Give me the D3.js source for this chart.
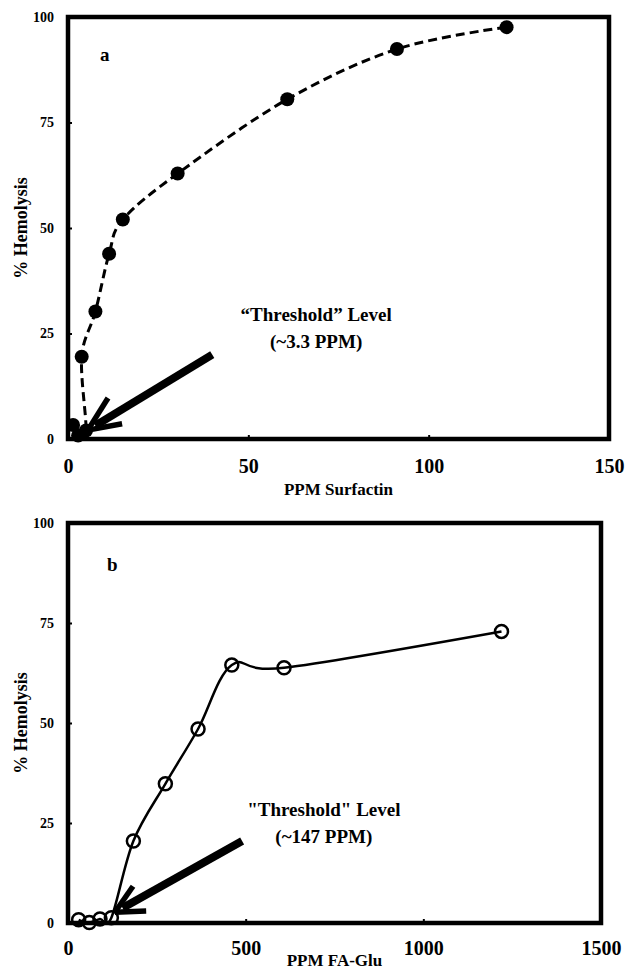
<!DOCTYPE html>
<html><head><meta charset="utf-8">
<script src="https://cdn.jsdelivr.net/npm/d3@7"></script>
<style>body{margin:0;background:#fff}svg{display:block}text{font-family:"Liberation Serif","Times New Roman",serif;font-weight:bold;fill:#000}</style>
</head><body>
<svg id="c" width="626" height="973"></svg>
<script>
// ---- Panel a: Surfactin ----
const surfPPM = [1.4, 2.8, 5.0, 3.8, 7.6, 11.4, 15.2, 30.4, 60.8, 91.2, 121.6];
const surfHemo = [3.3, 0.8, 2.0, 19.5, 30.2, 43.9, 52.0, 62.9, 80.5, 92.4, 97.6];
const surfXTicks = [0, 50, 100, 150];
// ---- Panel b: FA-Glu ----
const faPPM = [30, 60, 90, 122, 184, 274, 366, 461, 608, 1220];
const faHemo = [0.8, 0.1, 1.0, 1.3, 20.5, 34.8, 48.5, 64.5, 63.8, 72.9];
const faXTicks = [0, 500, 1000, 1500];
const yTicks = [0, 25, 50, 75, 100];
// annotations (data units): arrow tip, shaft end, arm ends
const arrowA = {tip:[5.5,2.1], tail:[40,20], arm1:[11.1,9.7], arm2:[15,3.6]};
const arrowB = {tip:[132,2.7], tail:[490,20.5], arm1:[183,9.2], arm2:[220,3.0]};
const textA = ["\u201CThreshold\u201D Level", "(~3.3 PPM)"];
const textB = ["\"Threshold\" Level", "(~147 PPM)"];

const svg = d3.select("#c");

function panel(o){
  const x = d3.scaleLinear().domain([0, o.xmax]).range([o.left, o.right]);
  const y = d3.scaleLinear().domain([0, 100]).range([o.bottom, o.top]);
  const g = svg.append("g");
  // axes
  const ax = g.append("g").attr("transform",`translate(0,${o.bottom})`)
    .call(d3.axisBottom(x).tickValues(o.xticks).tickSizeInner(-4).tickSizeOuter(0).tickPadding(o.xpad).tickFormat(d3.format("d")));
  ax.select(".domain").remove();
  ax.selectAll("line").attr("stroke","#000").attr("stroke-width",2);
  ax.selectAll("text").attr("font-size",20).attr("fill","#000");
  const ay = g.append("g").attr("transform",`translate(${o.left},0)`)
    .call(d3.axisLeft(y).tickValues(yTicks).tickSizeInner(-4).tickSizeOuter(0).tickPadding(14));
  ay.select(".domain").remove();
  ay.selectAll("line").attr("stroke","#000").attr("stroke-width",2);
  ay.selectAll("text").attr("font-size",14).attr("fill","#000");
  // frame
  g.append("rect").attr("x",o.left).attr("y",o.top).attr("width",o.right-o.left).attr("height",o.bottom-o.top)
    .attr("fill","none").attr("stroke","#000").attr("stroke-width",4.5);
  // titles
  g.append("text").attr("x",(o.left+o.right)/2).attr("y",o.titleY).attr("text-anchor","middle").attr("font-size",17).text(o.xtitle);
  g.append("text").attr("transform",`translate(27,${(o.top+o.bottom)/2}) rotate(-90)`).attr("text-anchor","middle").attr("font-size",18).text("% Hemolysis");
  g.append("text").attr("x",o.tagX).attr("y",o.tagY).attr("font-size",19).text(o.tag);
  // line
  const pts = o.xs.map((v,i)=>[v,o.ys[i]]);
  const line = d3.line().x(d=>x(d[0])).y(d=>y(d[1])).curve(d3.curveCardinal.tension(0));
  const path = g.append("path").attr("d",line(pts)).attr("fill","none").attr("stroke","#000").attr("stroke-width",o.lw);
  if(o.dash) path.attr("stroke-dasharray",o.dash);
  g.selectAll("circle.p").data(pts).enter().append("circle")
    .attr("cx",d=>x(d[0])).attr("cy",d=>y(d[1])).attr("r",o.r)
    .attr("fill",o.filled?"#000":"none").attr("stroke","#000").attr("stroke-width",o.filled?0:2.5);
  // arrow
  const a = o.arrow, P = p=>[x(p[0]), y(p[1])];
  const tip = P(a.tip), tail = P(a.tail);
  g.append("line").attr("x1",tail[0]).attr("y1",tail[1]).attr("x2",tip[0]+ (tail[0]-tip[0])*0.06).attr("y2",tip[1]+(tail[1]-tip[1])*0.06)
    .attr("stroke","#000").attr("stroke-width",8);
  [a.arm1,a.arm2].forEach(m=>{const e=P(m);
    g.append("line").attr("x1",tip[0]).attr("y1",tip[1]).attr("x2",e[0]).attr("y2",e[1]).attr("stroke","#000").attr("stroke-width",5.5).attr("stroke-linecap","butt");});
  // text
  o.note.forEach((t,i)=>{
    g.append("text").attr("x",x(o.noteAt[0])).attr("y",y(o.noteAt[1])+i*27).attr("text-anchor","middle").attr("font-size",19).attr("dominant-baseline","central").text(t);
  });
}

panel({xmax:150,left:68,right:609,top:17,bottom:439,xticks:surfXTicks,xpad:20,xtitle:"PPM Surfactin",titleY:495,
  tag:"a",tagX:100,tagY:61,xs:surfPPM,ys:surfHemo,lw:3,dash:"9,5",r:7,filled:true,arrow:arrowA,note:textA,noteAt:[68.8,29.5]});
panel({xmax:1500,left:68,right:601,top:523,bottom:923,xticks:faXTicks,xpad:18,xtitle:"PPM FA-Glu",titleY:966,
  tag:"b",tagX:107,tagY:571,xs:faPPM,ys:faHemo,lw:2.5,dash:null,r:6.5,filled:false,arrow:arrowB,note:textB,noteAt:[720,28.5]});
</script>
</body></html>
